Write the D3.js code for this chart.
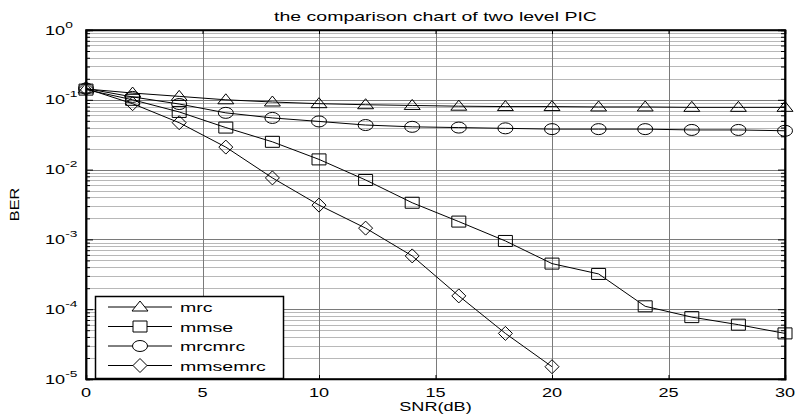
<!DOCTYPE html>
<html>
<head>
<meta charset="utf-8">
<script src="https://cdn.jsdelivr.net/npm/d3@7"></script>
<style>
  body { margin: 0; background: #fff; }
  svg { display: block; font-family: "Liberation Sans", Arial, sans-serif; }
</style>
</head>
<body>
<svg width="795" height="417"></svg>
<script>
// значения
const snr = [0, 2, 4, 6, 8, 10, 12, 14, 16, 18, 20, 22, 24, 26, 28, 30];
const mrc = [0.143, 0.125, 0.112, 0.100, 0.093, 0.088, 0.085, 0.083, 0.081, 0.080, 0.080, 0.079, 0.079, 0.078, 0.078, 0.078];
const mmse = [0.14, 0.10, 0.067, 0.040, 0.025, 0.014, 0.0071, 0.00335, 0.0018, 0.00095, 0.00045, 0.00032, 0.00011, 0.000077, 0.00006, 0.000045];
const mrcmrc = [0.145, 0.11, 0.087, 0.065, 0.055, 0.049, 0.0435, 0.041, 0.040, 0.039, 0.038, 0.038, 0.038, 0.037, 0.037, 0.036];
const mmsemrc = [0.145, 0.088, 0.047, 0.021, 0.0076, 0.0031, 0.00145, 0.00058, 0.000155, 0.000045, 0.000015];
const seriesNames = ["mrc", "mmse", "mrcmrc", "mmsemrc"];
const seriesMarkers = ["triangle", "square", "circle", "diamond"];
const xTicks = [0, 5, 10, 15, 20, 25, 30];
const yDecades = [0, -1, -2, -3, -4, -5];

const area = { left: 86, right: 785, top: 30, bottom: 379 };
const SX = 1.45; // текст в исходнике растянут по горизонтали

const svg = d3.select("svg");

const x = d3.scaleLinear().domain([0, 30]).range([area.left, area.right]);
const y = d3.scaleLog().domain([1e-5, 1]).range([area.bottom, area.top]);

// сетка: мелкая по log-делениям и основная
const minor = [];
for (let e = -5; e < 0; e++) for (let k = 2; k <= 9; k++) minor.push(k * Math.pow(10, e));

const grid = svg.append("g");
grid.selectAll(".hminor").data(minor).enter().append("line")
  .attr("x1", area.left).attr("x2", area.right)
  .attr("y1", d => Math.round(y(d)) + 0.5).attr("y2", d => Math.round(y(d)) + 0.5)
  .attr("stroke", "#b8b8b8").attr("stroke-width", 1);
grid.selectAll(".hmajor").data(yDecades).enter().append("line")
  .attr("x1", area.left).attr("x2", area.right)
  .attr("y1", d => Math.round(y(Math.pow(10, d))) + 0.5).attr("y2", d => Math.round(y(Math.pow(10, d))) + 0.5)
  .attr("stroke", "#7a7a7a").attr("stroke-width", 1);
grid.selectAll(".vmajor").data(xTicks).enter().append("line")
  .attr("x1", d => Math.round(x(d)) + 0.5).attr("x2", d => Math.round(x(d)) + 0.5)
  .attr("y1", area.top).attr("y2", area.bottom)
  .attr("stroke", "#7a7a7a").attr("stroke-width", 1);

// оси (деления внутрь, как в MATLAB)
svg.append("g").attr("transform", `translate(0,${area.bottom})`)
  .call(d3.axisBottom(x).tickValues(xTicks).tickSize(-4).tickFormat(""));
svg.append("g").attr("transform", `translate(0,${area.top})`)
  .call(d3.axisTop(x).tickValues(xTicks).tickSize(-4).tickFormat(""));
svg.append("g").attr("transform", `translate(${area.left},0)`)
  .call(d3.axisLeft(y).tickValues(minor).tickSize(-4).tickFormat(""));
svg.append("g").attr("transform", `translate(${area.right},0)`)
  .call(d3.axisRight(y).tickValues(minor).tickSize(-4).tickFormat(""));
svg.append("g").attr("transform", `translate(${area.left},0)`)
  .call(d3.axisLeft(y).tickValues(yDecades.map(d => Math.pow(10, d))).tickSize(-7).tickFormat(""));
svg.append("g").attr("transform", `translate(${area.right},0)`)
  .call(d3.axisRight(y).tickValues(yDecades.map(d => Math.pow(10, d))).tickSize(-7).tickFormat(""));
svg.selectAll(".domain").attr("stroke", "#000").attr("stroke-width", 1.5);
svg.selectAll(".tick line").attr("stroke", "#000");

svg.append("rect")
  .attr("x", area.left).attr("y", area.top)
  .attr("width", area.right - area.left).attr("height", area.bottom - area.top)
  .attr("fill", "none").attr("stroke", "#000").attr("stroke-width", 1.5);

// подписи делений
function stretched(g, tx, ty, size, anchor, sx) {
  return g.append("text")
    .attr("transform", `translate(${tx},${ty}) scale(${sx || SX},1)`)
    .attr("font-size", size).attr("text-anchor", anchor || "start");
}

xTicks.forEach(d => {
  stretched(svg, x(d), 397, 12.5, "middle").text(d);
});
yDecades.forEach(d => {
  const t = stretched(svg, 45, y(Math.pow(10, d)) + 4.5, 12.5, "start");
  t.append("tspan").text("10");
  t.append("tspan").attr("dy", -7).attr("font-size", 9.5).text(d === 0 ? "0" : String(d).replace("-", "-"));
});

// заголовок и подписи осей
stretched(svg, (area.left + area.right) / 2, 21, 13, "middle", 1.5).text("the comparison chart of two level PIC");
stretched(svg, (area.left + area.right) / 2, 411, 12.5, "middle").text("SNR(dB)");
svg.append("text")
  .attr("transform", `translate(19,${(area.top + area.bottom) / 2}) rotate(-90) scale(1.3,1)`)
  .attr("font-size", 12.5).attr("text-anchor", "middle").text("BER");

// маркеры
function markerPath(type) {
  if (type === "triangle") return "M0,-6L8,4L-8,4Z";
  if (type === "square") return "M-7,-5.5H7V5.5H-7Z";
  if (type === "circle") return "M-7.5,0A7.5,5.5 0 1,0 7.5,0A7.5,5.5 0 1,0 -7.5,0Z";
  return "M0,-7L7,0L0,7L-7,0Z";
}

const allSeries = [mrc, mmse, mrcmrc, mmsemrc];
const line = d3.line().x(d => x(d[0])).y(d => y(d[1]));

const plot = svg.append("g");
allSeries.forEach((vals, i) => {
  const pts = vals.map((v, j) => [snr[j], v]);
  plot.append("path").datum(pts)
    .attr("d", line).attr("fill", "none").attr("stroke", "#000").attr("stroke-width", 1);
  plot.selectAll(`.m${i}`).data(pts).enter().append("path")
    .attr("transform", d => `translate(${x(d[0])},${y(d[1])})`)
    .attr("d", markerPath(seriesMarkers[i]))
    .attr("fill", "none").attr("stroke", "#000").attr("stroke-width", 1);
});

// легенда
const leg = svg.append("g");
leg.append("rect").attr("x", 95.5).attr("y", 296.5).attr("width", 188).attr("height", 82)
  .attr("fill", "#fff").attr("stroke", "#000").attr("stroke-width", 1.5);
seriesNames.forEach((name, i) => {
  const ly = 307 + i * 19.5;
  leg.append("line").attr("x1", 108).attr("x2", 172).attr("y1", ly).attr("y2", ly)
    .attr("stroke", "#000").attr("stroke-width", 1);
  leg.append("path").attr("transform", `translate(140,${ly})`)
    .attr("d", markerPath(seriesMarkers[i]))
    .attr("fill", "#fff").attr("stroke", "#000");
  stretched(leg, 180, ly + 5, 13.5, "start").text(name);
});
</script>
</body>
</html>
